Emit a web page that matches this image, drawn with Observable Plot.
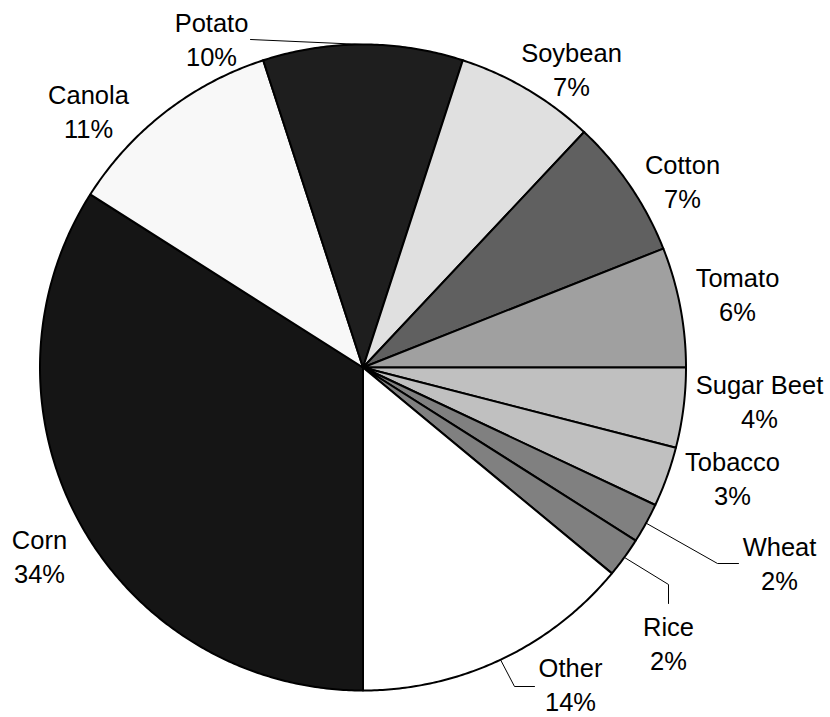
<!DOCTYPE html>
<html>
<head>
<meta charset="utf-8">
<script src="https://cdn.jsdelivr.net/npm/d3@7"></script>
<script src="https://cdn.jsdelivr.net/npm/@observablehq/plot@0.6"></script>
<style>
  html, body { margin: 0; padding: 0; background: #fff; }
  #chart svg { display: block; }
</style>
</head>
<body>
<div id="chart"></div>
<script>
// Share of field trials by crop, clockwise from 6 o'clock
const crops  = ["Corn", "Canola", "Potato", "Soybean", "Cotton", "Tomato", "Sugar Beet", "Tobacco", "Wheat", "Rice", "Other"];
const shares = [34, 11, 10, 7, 7, 6, 4, 3, 2, 2, 14];
const fills  = ["#151515", "#f8f8f8", "#1e1e1e", "#e0e0e0", "#606060", "#a0a0a0", "#c0c0c0", "#c0c0c0", "#808080", "#808080", "#ffffff"];

// Label block centres in screen pixels (same order as crops)
const labelAt = [[39, 555], [88, 110], [211, 38], [571, 68], [682, 180], [737, 293], [759, 400], [732, 477], [779, 562], [668, 642], [570, 683]];
// Elbow points of leader lines for labels set away from their slice
const leaderElbows = {
  "Potato": [[250, 39]],
  "Wheat": [[717, 563], [738, 563]],
  "Rice": [[668, 584], [668, 603]],
  "Other": [[514, 686], [534, 686]]
};

const W = 830, H = 717;
const cx = 362.5, cy = 367, R = 323;   // pie centre and radius in pixels

// pixel -> unit-circle coordinates (y up)
const toUnit = ([px, py]) => [(px - cx) / R, (cy - py) / R];

const arcs = d3.pie().sort(null).value(d => d.share)
  .startAngle(Math.PI).endAngle(3 * Math.PI)(crops.map((name, i) => ({name, share: shares[i]})));

// slice polygons: centre -> arc -> centre
const slicePts = [];
for (const a of arcs) {
  const n = Math.max(4, Math.ceil((a.endAngle - a.startAngle) / (Math.PI / 360)));
  slicePts.push({name: a.data.name, x: 0, y: 0});
  for (let k = 0; k <= n; ++k) {
    const t = a.startAngle + (a.endAngle - a.startAngle) * k / n;
    slicePts.push({name: a.data.name, x: Math.sin(t), y: Math.cos(t)});
  }
  slicePts.push({name: a.data.name, x: 0, y: 0});
}

// leader lines start on the rim at the slice's mid angle
const leaderPts = [];
for (const a of arcs) {
  const elbows = leaderElbows[a.data.name];
  if (!elbows) continue;
  const m = (a.startAngle + a.endAngle) / 2;
  leaderPts.push({name: a.data.name, x: Math.sin(m), y: Math.cos(m)});
  for (const p of elbows) {
    const [x, y] = toUnit(p);
    leaderPts.push({name: a.data.name, x, y});
  }
}

const labels = crops.map((name, i) => {
  const [x, y] = toUnit(labelAt[i]);
  return {name, x, y, text: `${name}\n${shares[i]}%`};
});

const chart = Plot.plot({
  width: W,
  height: H,
  margin: 0,
  style: {background: "#fff", overflow: "visible"},
  x: {domain: [-cx / R, (W - cx) / R], range: [0, W], axis: null},
  y: {domain: [-(H - cy) / R, cy / R], range: [H, 0], axis: null},
  color: {domain: crops, range: fills},
  marks: [
    Plot.line(slicePts, {
      x: "x", y: "y", z: "name", fill: "name",
      stroke: "#000", strokeWidth: 2, strokeLinejoin: "round", curve: "linear"
    }),
    Plot.line(leaderPts, {
      x: "x", y: "y", z: "name", stroke: "#000", strokeWidth: 1, curve: "linear"
    }),
    Plot.text(labels, {
      x: "x", y: "y", text: "text",
      fontSize: 25.5, lineHeight: 1.333,
      fontFamily: "'Liberation Sans', Arial, sans-serif",
      fill: "#000", textAnchor: "middle"
    })
  ]
});

document.getElementById("chart").appendChild(chart);
</script>
</body>
</html>
